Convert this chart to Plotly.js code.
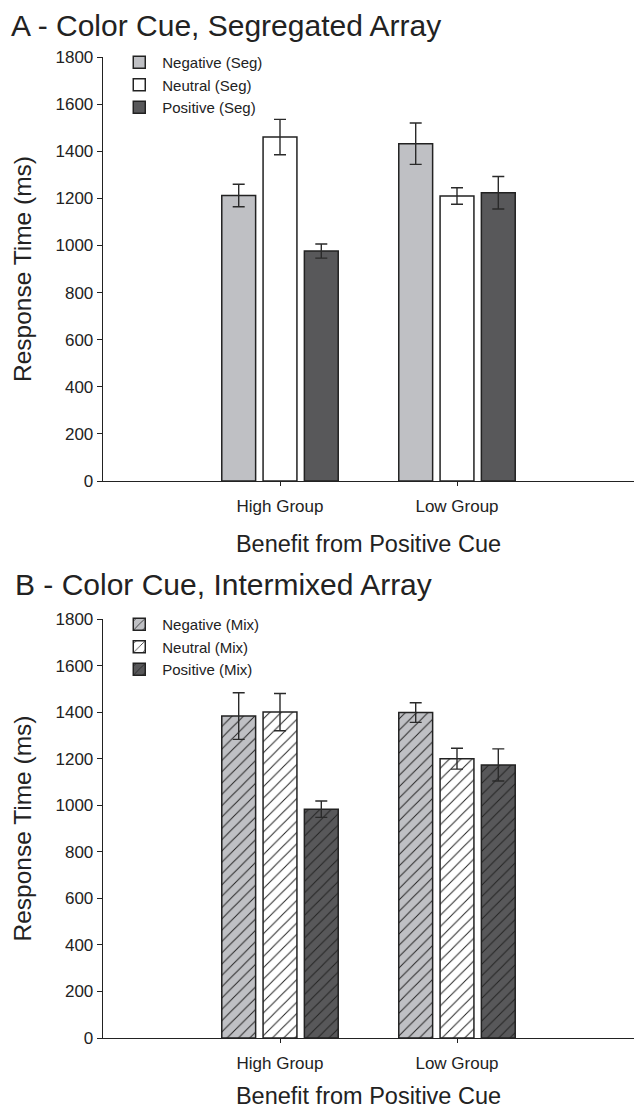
<!DOCTYPE html>
<html>
<head>
<meta charset="utf-8">
<script src="https://cdn.plot.ly/plotly-3.0.1.min.js"></script>
<style>html,body{margin:0;padding:0;background:#fff;}#chart{width:634px;height:1109px;}</style>
</head>
<body>
<div id="chart"></div>
<script>
// ---- data ----
var groups = ['High Group', 'Low Group'];
var segNames = ['Negative (Seg)', 'Neutral (Seg)', 'Positive (Seg)'];
var mixNames = ['Negative (Mix)', 'Neutral (Mix)', 'Positive (Mix)'];
var segNegative = [1212, 1432];
var segNeutral  = [1460, 1210];
var segPositive = [976, 1224];
var segNegativeErr = [48, 88];
var segNeutralErr  = [75, 35];
var segPositiveErr = [30, 69];
var mixNegative = [1383, 1398];
var mixNeutral  = [1400, 1200];
var mixPositive = [983, 1173];
var mixNegativeErr = [100, 42];
var mixNeutralErr  = [80, 45];
var mixPositiveErr = [35, 69];
var yTicks = [0, 200, 400, 600, 800, 1000, 1200, 1400, 1600, 1800];

// ---- style ----
var fills = ['#bfc0c4', '#ffffff', '#58585a'];
var edge = '#222222';
var FONT = "Arial, 'Liberation Sans', sans-serif";

function barTrace(name, vals, errs, idx, xa, ya, legendId, hatched) {
  var marker = { color: fills[idx], line: { color: edge, width: 1.5 } };
  if (hatched) {
    marker.pattern = { shape: '/', fgcolor: edge, bgcolor: fills[idx], size: 8, solidity: 0.12, fillmode: 'replace' };
  }
  return {
    type: 'bar', name: name, x: groups, y: vals,
    xaxis: xa, yaxis: ya, legend: legendId,
    marker: marker,
    error_y: { type: 'data', array: errs, visible: true, color: '#2a2a2a', thickness: 1.4, width: 6 },
    hoverinfo: 'x+y+name'
  };
}

var data = [
  barTrace(segNames[0], segNegative, segNegativeErr, 0, 'x', 'y', 'legend', false),
  barTrace(segNames[1], segNeutral, segNeutralErr, 1, 'x', 'y', 'legend', false),
  barTrace(segNames[2], segPositive, segPositiveErr, 2, 'x', 'y', 'legend', false),
  barTrace(mixNames[0], mixNegative, mixNegativeErr, 0, 'x2', 'y2', 'legend2', true),
  barTrace(mixNames[1], mixNeutral, mixNeutralErr, 1, 'x2', 'y2', 'legend2', true),
  barTrace(mixNames[2], mixPositive, mixPositiveErr, 2, 'x2', 'y2', 'legend2', true)
];

var H = 1109;
function py(px) { return (H - px) / H; }

function xAxis(anchor) {
  return {
    anchor: anchor, domain: [0, 1], type: 'category', range: [-1, 2],
    showline: true, linecolor: edge, linewidth: 1.3, mirror: false,
    ticks: 'outside', ticklen: 4, tickwidth: 1, tickcolor: edge,
    ticklabelstandoff: 5,
    showgrid: false, zeroline: false,
    tickfont: { family: FONT, size: 17, color: '#222' },
    title: { text: 'Benefit from Positive Cue', font: { family: FONT, size: 23.5, color: '#222' }, standoff: 20 },
    automargin: false, fixedrange: true
  };
}
function yAxis(anchor, dom) {
  return {
    anchor: anchor, domain: dom, range: [0, 1800], tickmode: 'array', tickvals: yTicks,
    showline: true, linecolor: edge, linewidth: 1.3,
    ticks: 'outside', ticklen: 5, tickwidth: 1, tickcolor: edge,
    showgrid: false, zeroline: false,
    tickfont: { family: FONT, size: 17, color: '#222' },
    title: { text: 'Response Time (ms)', font: { family: FONT, size: 24.5, color: '#222' }, standoff: 17 },
    automargin: false, fixedrange: true
  };
}

var legendCommon = {
  bgcolor: 'rgba(0,0,0,0)', borderwidth: 0, xanchor: 'left', yanchor: 'top',
  font: { family: FONT, size: 15, color: '#222' }, traceorder: 'normal', itemclick: false, itemdoubleclick: false,
  tracegroupgap: 0, itemwidth: 36
};

var layout = {
  width: 634, height: 1109,
  margin: { l: 103, r: 0, t: 0, b: 0 },
  paper_bgcolor: '#fff', plot_bgcolor: '#fff',
  showlegend: true,
  barmode: 'group', bargap: 0.3, bargroupgap: 0.18,
  font: { family: FONT, color: '#222' },
  xaxis: xAxis('y'),
  yaxis: yAxis('x', [py(481), py(57)]),
  xaxis2: xAxis('y2'),
  yaxis2: yAxis('x2', [py(1038), py(619)]),
  legend: Object.assign({}, legendCommon, { x: 0.025, y: py(46) }),
  legend2: Object.assign({}, legendCommon, { x: 0.025, y: py(608) }),
  annotations: [
    { text: 'A - Color Cue, Segregated Array', xref: 'paper', yref: 'paper', x: -103 / 531 + 9 / 531, y: py(25),
      xanchor: 'left', yanchor: 'middle', showarrow: false, font: { family: FONT, size: 30, color: '#222' } },
    { text: 'B - Color Cue, Intermixed Array', xref: 'paper', yref: 'paper', x: -103 / 531 + 13 / 531, y: py(584),
      xanchor: 'left', yanchor: 'middle', showarrow: false, font: { family: FONT, size: 30, color: '#222' } }
  ]
};

Plotly.newPlot('chart', data, layout, { displayModeBar: false, staticPlot: true });
</script>
</body>
</html>
